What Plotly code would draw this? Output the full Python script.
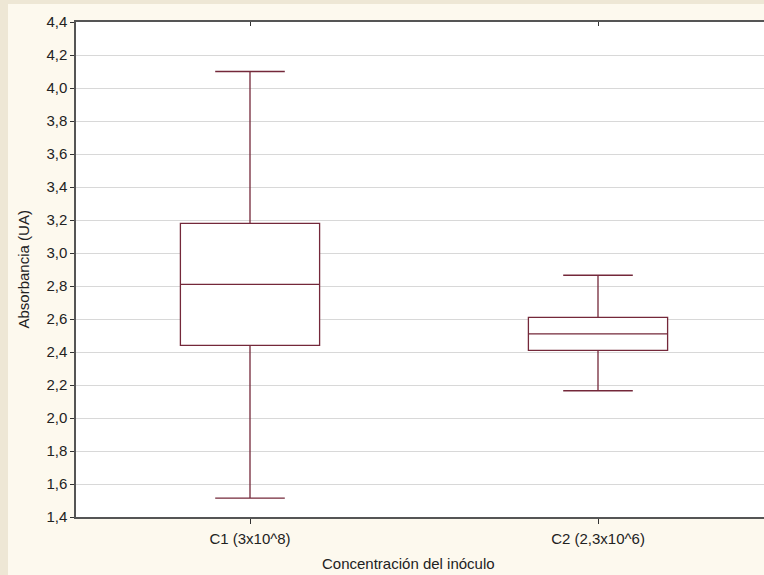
import plotly.graph_objects as go

# Summary statistics per inoculum concentration
categories = ["C1 (3x10^8)", "C2 (2,3x10^6)"]
minimum = [1.515, 2.165]
q1 = [2.44, 2.41]
median = [2.81, 2.51]
q3 = [3.18, 2.61]
maximum = [4.10, 2.865]

y_ticks = [1.4, 1.6, 1.8, 2.0, 2.2, 2.4, 2.6, 2.8, 3.0, 3.2, 3.4, 3.6, 3.8, 4.0, 4.2, 4.4]

FONT = "Liberation Sans, Arial, sans-serif"
BOX_COLOR = "#74283a"
AXIS_COLOR = "#555555"
GRID_COLOR = "#d8d8d8"
TEXT_COLOR = "#222222"

fig = go.Figure()
fig.add_trace(go.Box(
    x=categories,
    lowerfence=minimum,
    q1=q1,
    median=median,
    q3=q3,
    upperfence=maximum,
    width=0.4,
    whiskerwidth=0.5,
    fillcolor="rgba(255,255,255,1)",
    line=dict(color=BOX_COLOR, width=1.3),
    boxpoints=False,
    showlegend=False,
    hoverinfo="skip",
))

# top axis carrying the inward category ticks
fig.add_trace(go.Scatter(x=categories, y=[None, None], xaxis="x2", showlegend=False,
                         hoverinfo="skip", mode="markers"))

fig.update_layout(
    width=764,
    height=575,
    margin=dict(l=76, r=0, t=22, b=58),
    paper_bgcolor="#fdf9ee",
    plot_bgcolor="#ffffff",
    separators=",.",
    font=dict(family=FONT, size=15, color=TEXT_COLOR),
    xaxis=dict(
        type="category",
        range=[-0.5, 1.477],
        showgrid=False,
        showline=True,
        linecolor=AXIS_COLOR,
        linewidth=1.5,
        ticks="outside",
        ticklen=5,
        tickcolor="#333333",
        ticklabelstandoff=2,
        tickfont=dict(family=FONT, size=15, color=TEXT_COLOR),
        zeroline=False,
    ),
    xaxis2=dict(
        type="category",
        overlaying="x",
        side="top",
        matches="x",
        showgrid=False,
        showline=True,
        linecolor=AXIS_COLOR,
        linewidth=1.5,
        ticks="inside",
        ticklen=4,
        tickcolor="#333333",
        showticklabels=False,
        zeroline=False,
    ),
    yaxis=dict(
        range=[1.4, 4.4],
        tickvals=y_ticks,
        tickformat=".1f",
        showgrid=True,
        gridcolor=GRID_COLOR,
        gridwidth=1,
        showline=True,
        linecolor=AXIS_COLOR,
        linewidth=1.5,
        ticks="outside",
        ticklen=4,
        tickcolor="#333333",
        tickfont=dict(family=FONT, size=15, color=TEXT_COLOR),
        zeroline=False,
    ),
    shapes=[
        # outer frame strips
        dict(type="rect", xref="paper", yref="paper", x0=-76 / 688, x1=-68 / 688, y0=-58 / 495, y1=1 + 22 / 495,
             fillcolor="#eee7d5", line=dict(width=0), layer="below"),
        dict(type="rect", xref="paper", yref="paper", x0=-76 / 688, x1=1, y0=1 + 18 / 495, y1=1 + 22 / 495,
             fillcolor="#eee7d5", line=dict(width=0), layer="below"),
    ],
    annotations=[
        dict(text="Absorbancia (UA)", xref="paper", yref="paper", x=-53 / 688, y=0.5,
             textangle=-90, showarrow=False, xanchor="center", yanchor="middle",
             font=dict(family=FONT, size=15, color=TEXT_COLOR)),
        dict(text="Concentración del inóculo", xref="paper", yref="paper", x=332 / 688, y=-46 / 495,
             showarrow=False, xanchor="center", yanchor="middle",
             font=dict(family=FONT, size=15, color=TEXT_COLOR)),
    ],
)

fig.write_html("out.html")
